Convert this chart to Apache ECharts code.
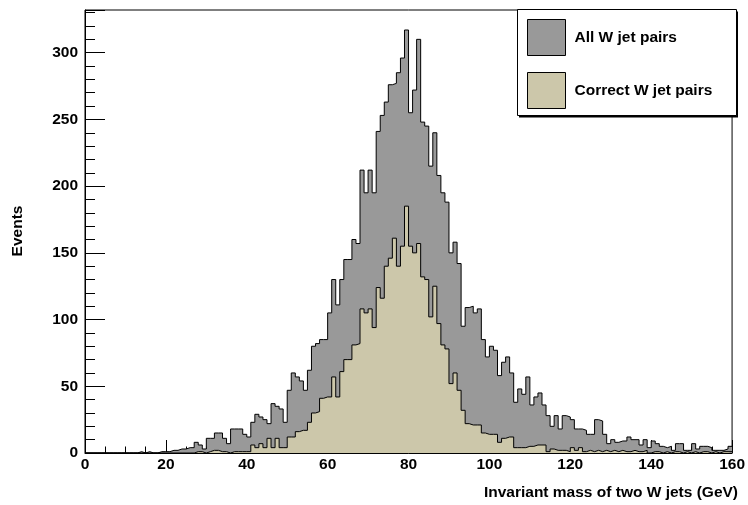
<!DOCTYPE html>
<html><head><meta charset="utf-8">
<script src="https://cdn.jsdelivr.net/npm/echarts@6/dist/echarts.min.js"></script>
<style>html,body{margin:0;padding:0;background:#fff}#c{width:748px;height:505px}</style>
</head><body><div id="c"></div>
<script>
// Histogram: 160 bins of 1 GeV, from 0 to 160 GeV
const binStart = 0;
const binWidth = 1;
const allPairs = [
  0,0,0,0,0,0,0,0,0,0, 0,0,0,1,0,1,0,0,1,1,
  1,2,2,3,3,4,4,8,6,3, 11,11,15,15,11,7,18,18,18,14,
  12,23,29,27,25,22,37,35,33,23, 47,60,57,54,47,62,80,82,85,85,
  105,130,111,130,145,145,160,157,212,195, 212,195,241,253,263,276,277,285,296,317,
  255,272,310,248,245,215,240,208,195,188, 150,158,142,95,109,110,105,108,85,72,
  80,77,58,68,72,60,38,48,44,57, 36,42,45,36,28,20,28,18,28,27,
  25,18,18,17,14,14,25,24,14,7, 10,8,9,9,12,10,10,6,10,4,
  9,7,5,4,5,2,7,7,2,2, 7,3,5,5,4,2,2,2,3,5
];
const correctPairs = [
  0,0,0,0,0,0,0,0,0,0, 0,0,0,0,0,0,0,0,0,0,
  0,0,0,0,0,0,0,1,1,0, 1,2,2,1,1,0,1,1,1,1,
  1,6,4,7,4,11,4,11,4,4, 12,12,16,17,17,23,30,31,41,42,
  42,57,42,61,70,70,81,82,108,105, 108,94,124,116,140,146,161,140,155,185,
  155,150,157,132,130,102,125,97,81,78, 52,60,47,32,22,21,21,21,15,14,
  14,14,8,11,12,12,4,4,4,5, 5,6,6,6,1,3,2,2,2,1,
  4,2,4,1,2,1,2,1,2,1, 2,1,2,1,1,2,1,1,2,0,
  1,1,0,1,0,1,1,0,1,0, 1,0,1,1,0,1,0,1,1,1
];
const seriesNames = ['All W jet pairs', 'Correct W jet pairs'];
const xMin = 0, xMax = 160, xMajor = 20, xMinor = 5;
const yMin = 0, yMax = 332, yMajor = 50, yMinor = 10;
const xTitle = 'Invariant mass of two W jets (GeV)';
const yTitle = 'Events';

const GRAY = '#999999';
const TAN = '#ccc7aa';
const FONT = 'Liberation Sans';
const FS = 15.5;

function stepData(vals) {
  const d = vals.map((v, i) => [binStart + i * binWidth, v]);
  d.push([binStart + vals.length * binWidth, vals[vals.length - 1]]);
  return d;
}

const chart = echarts.init(document.getElementById('c'), null, {renderer: 'canvas'});
const labelStyle = {color: '#000', fontFamily: FONT, fontWeight: 'bold', fontSize: FS};

chart.setOption({
  animation: false,
  backgroundColor: '#fff',
  grid: {left: 85, top: 10, width: 653, height: 443, show: true, borderColor: '#000', borderWidth: 1, backgroundColor: 'transparent', containLabel: false},
  xAxis: [
    {type: 'value', min: xMin, max: xMax, interval: xMajor, position: 'bottom',
     axisLine: {show: true, onZero: false, lineStyle: {color: '#000', width: 1}},
     axisTick: {show: true, inside: true, length: 13, lineStyle: {color: '#000', width: 1}},
     axisLabel: Object.assign({margin: 4}, labelStyle),
     splitLine: {show: false}},
    {type: 'value', min: xMin, max: xMax, interval: xMinor, position: 'bottom',
     axisLine: {show: false, onZero: false},
     axisTick: {show: true, inside: true, length: 6.5, lineStyle: {color: '#000', width: 1}},
     axisLabel: {show: false}, splitLine: {show: false}}
  ],
  yAxis: [
    {type: 'value', min: yMin, max: yMax, interval: yMajor, position: 'left',
     axisLine: {show: true, onZero: false, lineStyle: {color: '#000', width: 1}},
     axisTick: {show: true, inside: true, length: 20, lineStyle: {color: '#000', width: 1}},
     axisLabel: Object.assign({margin: 7, formatter: v => (v % yMajor === 0 ? String(v) : '')}, labelStyle),
     splitLine: {show: false}},
    {type: 'value', min: yMin, max: yMax, interval: yMinor, position: 'left',
     axisLine: {show: false, onZero: false},
     axisTick: {show: true, inside: true, length: 10, lineStyle: {color: '#000', width: 1}},
     axisLabel: {show: false}, splitLine: {show: false}}
  ],
  legend: {
    show: true, orient: 'vertical', left: 527, top: 19, padding: 0, itemWidth: 38, itemHeight: 36, itemGap: 16,
    selectedMode: false, z: 20,
    textStyle: {color: '#000', fontFamily: FONT, fontWeight: 'bold', fontSize: FS, padding: [0, 0, 0, 4]},
    data: [
      {name: seriesNames[0], icon: 'rect', itemStyle: {color: GRAY, borderColor: '#000', borderWidth: 1}},
      {name: seriesNames[1], icon: 'rect', itemStyle: {color: TAN, borderColor: '#000', borderWidth: 1}}
    ]
  },
  graphic: [
    {type: 'rect', z: 10, shape: {x: 519, y: 11.5, width: 219, height: 106}, style: {fill: '#000'}},
    {type: 'rect', z: 11, shape: {x: 517.5, y: 9.5, width: 219, height: 106}, style: {fill: '#fff', stroke: '#000', lineWidth: 1}},
    {type: 'text', z: 11, x: 738, y: 493, style: {text: xTitle, fill: '#000', font: 'bold ' + FS + 'px "' + FONT + '"', align: 'right', verticalAlign: 'middle'}},
    {type: 'text', z: 11, x: 18, y: 231, rotation: Math.PI / 2, style: {text: yTitle, fill: '#000', font: 'bold ' + FS + 'px "' + FONT + '"', align: 'center', verticalAlign: 'middle'}}
  ],
  series: [
    {name: seriesNames[0], type: 'line', xAxisIndex: 0, yAxisIndex: 0, step: 'end', symbol: 'none',
     data: stepData(allPairs), itemStyle: {color: GRAY},
     lineStyle: {color: '#000', width: 1}, areaStyle: {color: GRAY, opacity: 1}, z: 2},
    {name: seriesNames[1], type: 'line', xAxisIndex: 0, yAxisIndex: 0, step: 'end', symbol: 'none',
     data: stepData(correctPairs), itemStyle: {color: TAN},
     lineStyle: {color: '#000', width: 1}, areaStyle: {color: TAN, opacity: 1}, z: 3}
  ]
});
</script></body></html>
